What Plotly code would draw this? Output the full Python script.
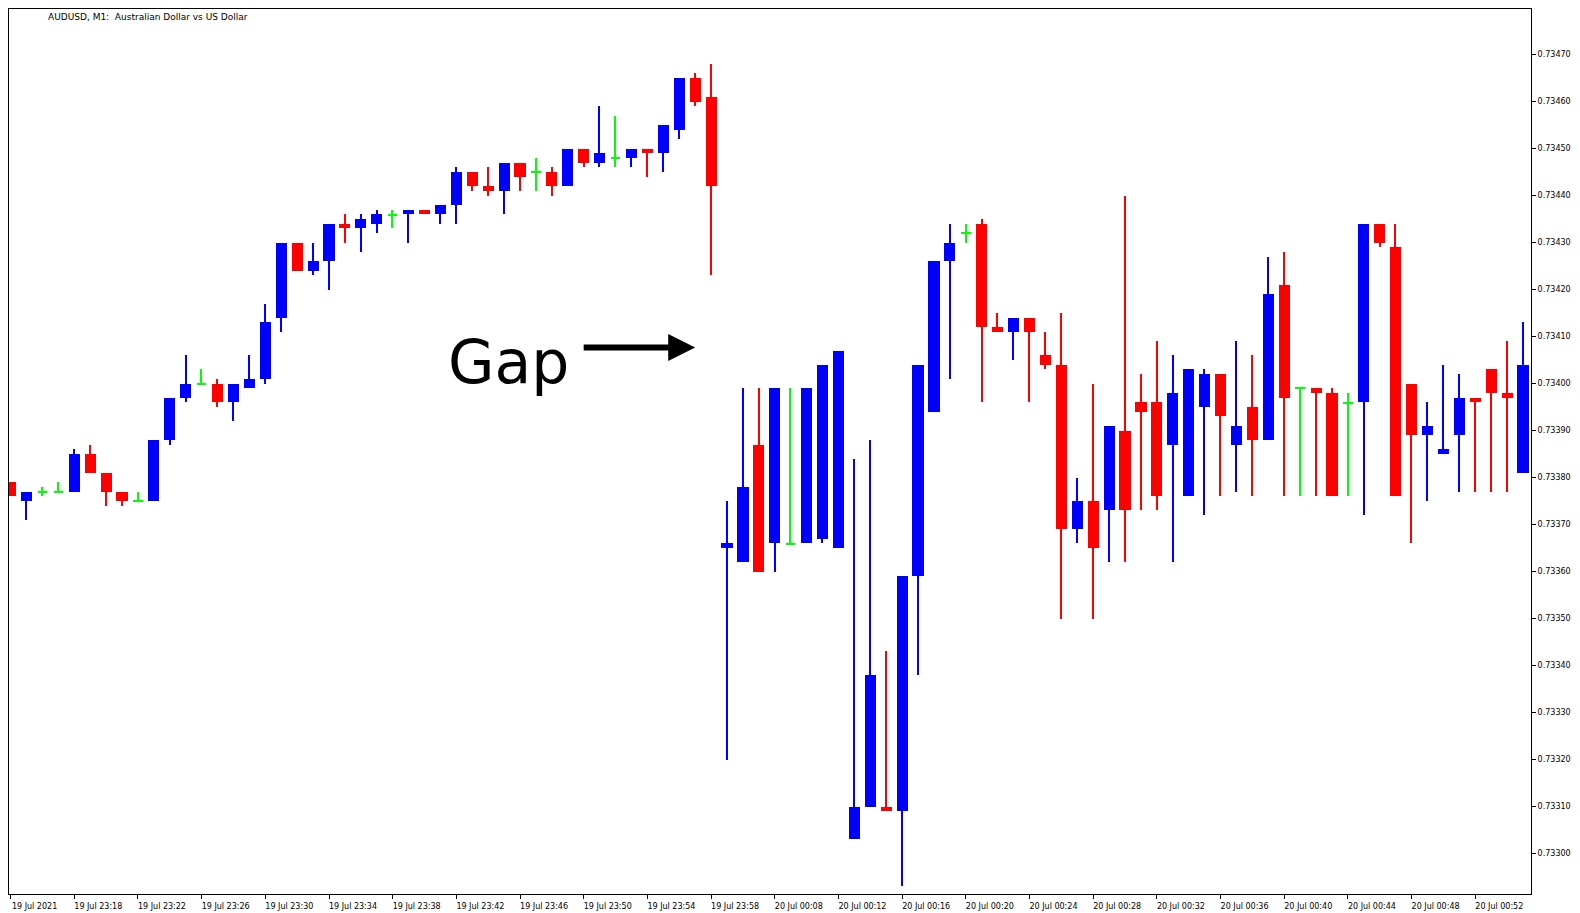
import plotly.graph_objects as go

labels = ["19 Jul 2021","19 Jul 23:18","19 Jul 23:22","19 Jul 23:26","19 Jul 23:30","19 Jul 23:34",
          "19 Jul 23:38","19 Jul 23:42","19 Jul 23:46","19 Jul 23:50","19 Jul 23:54","19 Jul 23:58",
          "20 Jul 00:08","20 Jul 00:12","20 Jul 00:16","20 Jul 00:20","20 Jul 00:24","20 Jul 00:28",
          "20 Jul 00:32","20 Jul 00:36","20 Jul 00:40","20 Jul 00:44","20 Jul 00:48","20 Jul 00:52"]

# prices in 1e-5 points above 0.7
opens = [73379,73375,73377,73377,73377,73385,73381,73377,73375,73375,73388,73397,73400,73400,73396,73399,
         73401,73414,73430,73424,73426,73434,73433,73434,73436,73436,73437,73436,73438,73445,73442,73441,
         73447,73445,73445,73442,73450,73447,73448,73448,73450,73449,73454,73465,73461,
         73365,73362,73387,73366,73366,73366,73367,73365,73303,73310,73310,73309,73359,73394,73426,73432,
         73434,73412,73411,73414,73406,73404,73369,73375,73373,73390,73396,73396,73387,73376,73395,73402,
         73387,73395,73388,73421,73399,73399,73398,73396,73396,73434,73429,73400,73389,73385,73389,73397,
         73403,73398,73381]
highs = [73379,73377,73378,73379,73386,73387,73381,73377,73377,73388,73397,73406,73403,73401,73400,73406,
         73417,73430,73430,73430,73434,73436,73436,73437,73437,73437,73437,73438,73446,73445,73446,73447,
         73447,73448,73446,73450,73450,73459,73457,73450,73450,73455,73465,73466,73468,
         73375,73399,73399,73399,73399,73399,73404,73407,73384,73388,73343,73359,73404,73426,73434,73434,
         73435,73415,73414,73414,73411,73415,73380,73400,73391,73440,73402,73409,73406,73403,73403,73402,
         73409,73406,73427,73428,73399,73399,73399,73398,73434,73434,73434,73400,73396,73404,73402,73397,
         73403,73409,73413]
lows = [73376,73371,73376,73377,73377,73381,73374,73374,73375,73375,73387,73396,73400,73395,73392,73399,
        73400,73411,73424,73423,73420,73430,73428,73432,73433,73430,73436,73434,73434,73441,73440,73436,
        73441,73441,73440,73442,73446,73446,73446,73446,73444,73445,73452,73459,73423,
        73320,73362,73360,73360,73366,73366,73366,73365,73303,73310,73309,73293,73338,73394,73401,73430,
        73396,73411,73405,73396,73403,73350,73366,73350,73362,73362,73373,73373,73362,73376,73372,73376,
        73377,73376,73388,73376,73376,73376,73376,73376,73372,73429,73376,73366,73375,73385,73377,73377,
        73377,73377,73381]
closes = [73376,73377,73377,73377,73385,73381,73377,73375,73375,73388,73397,73400,73400,73396,73400,73401,
          73413,73430,73424,73426,73434,73433,73435,73436,73436,73437,73436,73438,73445,73442,73441,73447,
          73444,73445,73442,73450,73447,73449,73448,73450,73449,73455,73465,73460,73442,
          73366,73378,73360,73399,73366,73399,73404,73407,73310,73338,73309,73359,73404,73426,73430,73432,
          73412,73411,73414,73411,73404,73369,73375,73365,73391,73373,73394,73376,73398,73403,73402,73393,
          73391,73388,73419,73397,73399,73398,73376,73396,73434,73430,73376,73389,73391,73386,73397,73396,
          73398,73397,73404]

def p(v):
    return v / 100000.0

n = len(opens)
xs = list(range(n))
cols = []
for o, c in zip(opens, closes):
    cols.append("#0000ff" if c > o else ("#ff0000" if c < o else "#00ff00"))

fig = go.Figure()
fig.add_trace(go.Bar(x=xs, base=[p(l) for l in lows], y=[p(h) - p(l) for h, l in zip(highs, lows)],
                     width=0.09, marker=dict(color=cols, line=dict(width=0)), hoverinfo="skip"))
bbase, bh = [], []
for o, c in zip(opens, closes):
    if o == c:
        bbase.append(p(o) - 0.0000015); bh.append(0.000003)
    else:
        bbase.append(p(min(o, c))); bh.append(p(abs(c - o)))
bw = [0.7 if o != c else 0.6 for o, c in zip(opens, closes)]
fig.add_trace(go.Bar(x=xs, base=bbase, y=bh, width=bw,
                     marker=dict(color=cols, line=dict(width=0))))

fig.update_layout(
    width=1580, height=913, showlegend=False, barmode="overlay", bargap=0,
    plot_bgcolor="white", paper_bgcolor="white",
    margin=dict(l=1, r=57, t=1, b=27, autoexpand=False),
    font=dict(family="DejaVu Sans", size=8, color="black"),
    xaxis=dict(range=[-0.1, 95.5], tickvals=list(range(0, 96, 4)), ticktext=labels,
               showgrid=False, zeroline=False, ticks="outside", ticklen=4, tickcolor="black",
               showline=True, linecolor="black", mirror=True, ticklabelshift=24,
               automargin=False, tickfont=dict(size=8)),
    yaxis=dict(side="right", range=[0.732914, 0.734797], dtick=0.0001, tick0=0.733,
               tickformat=".5f", showgrid=False, zeroline=False, ticks="outside", ticklen=4,
               tickcolor="black", showline=True, linecolor="black", mirror=True,
               automargin=False, tickfont=dict(size=8)),
    annotations=[
        dict(xref="paper", yref="paper", x=0.024, y=0.999, xanchor="left", yanchor="top",
             text="AUDUSD, M1:  Australian Dollar vs US Dollar", showarrow=False,
             font=dict(size=9, family="DejaVu Sans")),
        dict(x=31.3, y=0.734045, text="Gap", showarrow=False,
             font=dict(size=60, family="DejaVu Sans", color="black")),
        dict(x=43.0, y=0.734077, ax=-113, ay=0, text="", showarrow=True, arrowhead=2,
             arrowsize=0.9, arrowwidth=6, arrowcolor="black"),
    ],
)
fig.write_html("out.html")
